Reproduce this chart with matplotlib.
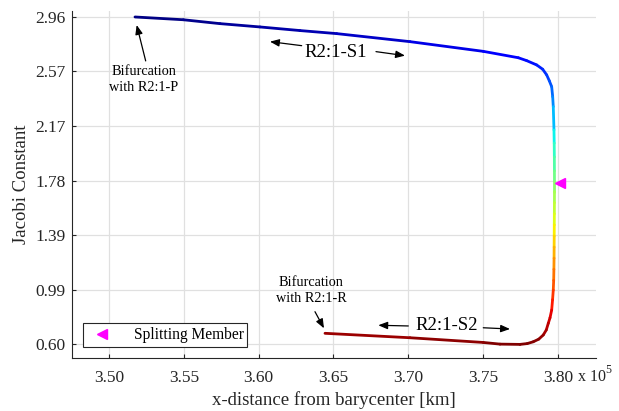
import numpy as np
import matplotlib.pyplot as plt
from matplotlib.collections import LineCollection
from matplotlib.colors import Normalize

plt.rcParams['font.family'] = ['Liberation Serif', 'DejaVu Serif']

# family members: x-distance [km] and Jacobi constant
x_km = [351737, 354965, 357417, 360090, 362763, 365215, 370113, 375011,
        377350, 377911, 378579, 378980, 379247, 379421, 379581, 379648,
        379688, 379735,
        379750, 379760, 379765, 379768, 379768, 379765, 379760, 379755,
        379750, 379745, 379740, 379730, 379715, 379688, 379640, 379581,
        379470, 379354, 379220, 379020, 378720, 378352, 377950, 377463,
        376127, 375011, 370113, 364433]
jacobi = [2.960, 2.940, 2.912, 2.888, 2.862, 2.840, 2.782, 2.712,
          2.666, 2.645, 2.614, 2.583, 2.542, 2.500, 2.457, 2.385,
          2.313, 2.145,
          2.05, 1.95, 1.85, 1.78, 1.70, 1.62, 1.54, 1.46,
          1.38, 1.30, 1.22, 1.14, 1.06, 0.990, 0.92, 0.846,
          0.79, 0.750, 0.702, 0.666, 0.636, 0.617, 0.604, 0.598,
          0.600, 0.612, 0.646, 0.678]

split_x = [380130]
split_c = [1.76]

xticks = [350000, 355000, 360000, 365000, 370000, 375000, 380000]
xticklabels = ['3.50', '3.55', '3.60', '3.65', '3.70', '3.75', '3.80']
yticks = [0.60, 0.99, 1.39, 1.78, 2.17, 2.57, 2.96]
yticklabels = ['0.60', '0.99', '1.39', '1.78', '2.17', '2.57', '2.96']

fig = plt.figure(figsize=(6.19, 4.11), dpi=100)
ax = fig.add_axes([0.1163, 0.129, 0.8465, 0.8442])

x = np.array(x_km, dtype=float)
c = np.array(jacobi)
pts = np.column_stack([x, c]).reshape(-1, 1, 2)
segs = np.concatenate([pts[:-1], pts[1:]], axis=1)
norm = Normalize(0.6, 2.96)
lc = LineCollection(segs, cmap='jet_r', norm=norm, linewidths=2.0,
                    capstyle='round', joinstyle='round', zorder=3)
lc.set_array((c[:-1] + c[1:]) / 2)
ax.add_collection(lc)

ax.plot(split_x, split_c, '<', color='magenta', markersize=6.5,
        linestyle='none', label='Splitting Member', zorder=4)

arw = dict(arrowstyle='-|>,head_length=0.55,head_width=0.22', color='black',
           lw=0.9, shrinkA=0, shrinkB=0)
ax.annotate('', xy=(351851, 2.902), xytext=(352452, 2.643), arrowprops=arw)
ax.text(352339, 2.509, 'Bifurcation\nwith R2:1-P', ha='center', va='center',
        fontsize=10.3, linespacing=1.25)

ax.text(365168, 2.704, 'R2:1-S1', ha='center', va='center', fontsize=13.5)
ax.annotate('', xy=(360758, 2.782), xytext=(362876, 2.753), arrowprops=arw)
ax.annotate('', xy=(369779, 2.681), xytext=(367841, 2.710), arrowprops=arw)

ax.text(372565, 0.731, 'R2:1-S2', ha='center', va='center', fontsize=13.5)
ax.annotate('', xy=(367995, 0.736), xytext=(370000, 0.731), arrowprops=arw)
ax.annotate('', xy=(376795, 0.709), xytext=(375011, 0.718), arrowprops=arw)

ax.text(363498, 0.987, 'Bifurcation\nwith R2:1-R', ha='center', va='center',
        fontsize=10.3, linespacing=1.25)
ax.annotate('', xy=(364366, 0.714), xytext=(363765, 0.834), arrowprops=arw)

ax.set_xlim(347528, 382541)
ax.set_ylim(0.500, 3.003)
ax.set_xticks(xticks)
ax.set_xticklabels(xticklabels)
ax.set_yticks(yticks)
ax.set_yticklabels(yticklabels)
ax.tick_params(direction='in', length=3.2, width=0.8, labelsize=12.5,
               colors='0.15')
ax.tick_params(axis='x', pad=9)
ax.tick_params(axis='y', pad=4.5)
ax.grid(True, color='0.88', linewidth=0.9)
ax.set_axisbelow(True)
for s in ['top', 'right']:
    ax.spines[s].set_visible(False)
for s in ['left', 'bottom']:
    ax.spines[s].set_color('0.15')
    ax.spines[s].set_linewidth(0.8)

ax.set_xlabel('x-distance from barycenter [km]', fontsize=13.5, color='0.15',
              labelpad=3)
ax.set_ylabel('Jacobi Constant', fontsize=13.5, color='0.15', labelpad=4)

fig.text(578 / 619, 1 - 377 / 411, 'x 10', fontsize=11.5, color='0.15',
         ha='left', va='center')
fig.text(605 / 619, 1 - 370 / 411, '5', fontsize=8.5, color='0.15',
         ha='left', va='center')

leg = ax.legend(loc='lower left', bbox_to_anchor=(0.021, 0.032),
                borderaxespad=0, fontsize=11.2, fancybox=False,
                framealpha=1, edgecolor='0.15', handlelength=2.0,
                handletextpad=1.0, borderpad=0.25)
leg.get_frame().set_linewidth(0.8)

fig.savefig('out.png', dpi=100)
